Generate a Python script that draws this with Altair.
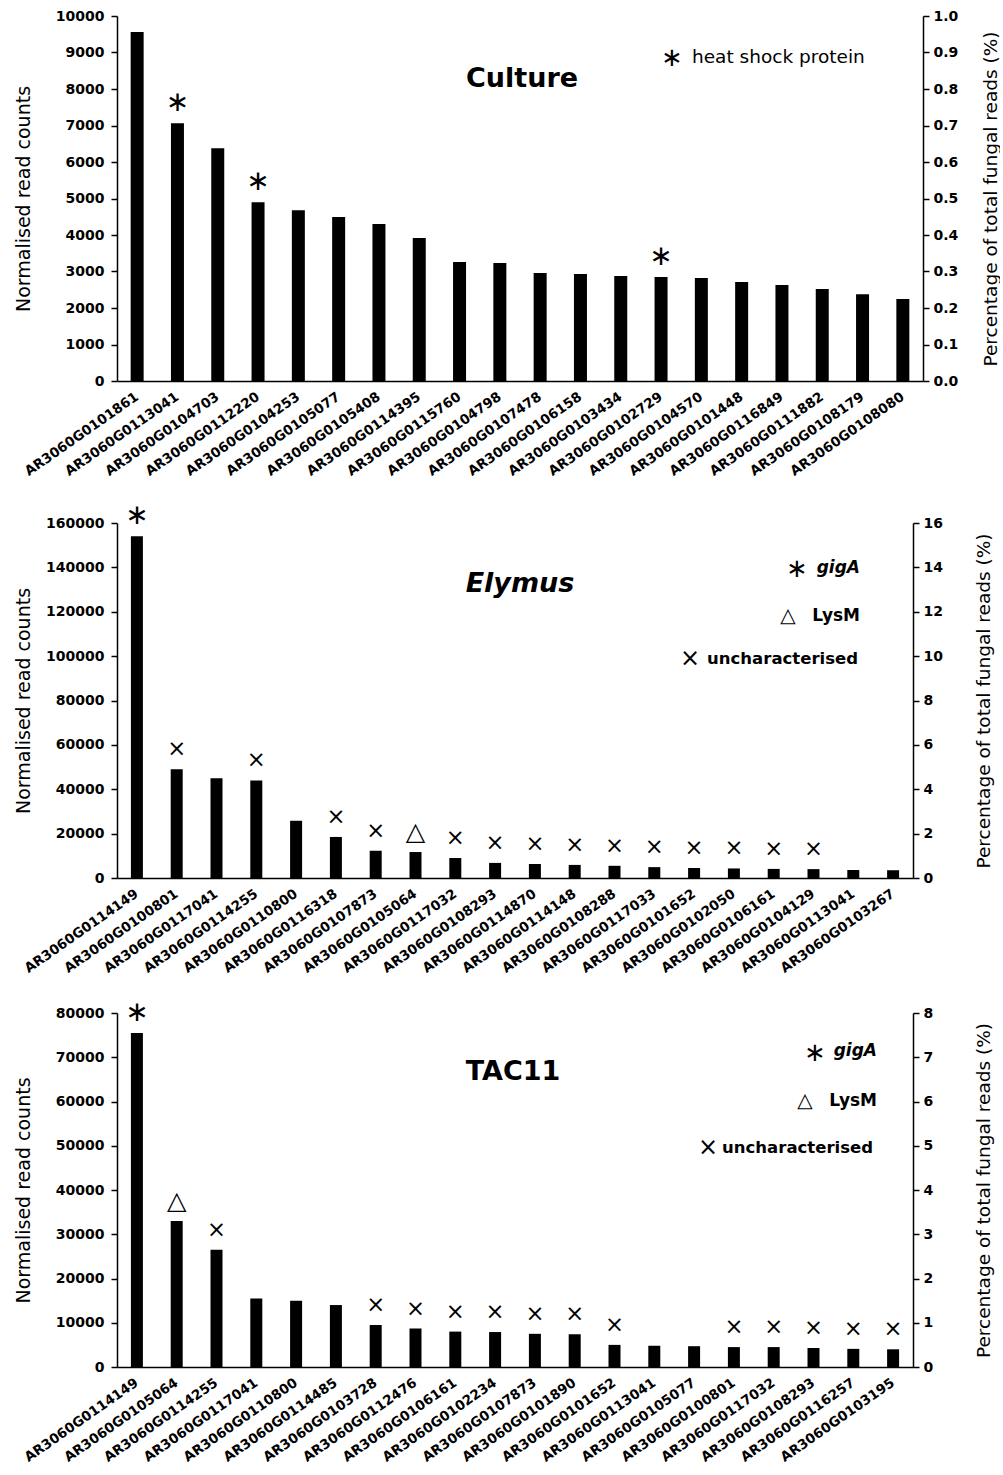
import altair as alt
import pandas as pd

FONT = "DejaVu Sans"
AST, TRI, CRS = "∗", "△", "×"

# ---------------- Culture ----------------
culture_genes = [
    "AR3060G0101861", "AR3060G0113041", "AR3060G0104703", "AR3060G0112220",
    "AR3060G0104253", "AR3060G0105077", "AR3060G0105408", "AR3060G0114395",
    "AR3060G0115760", "AR3060G0104798", "AR3060G0107478", "AR3060G0106158",
    "AR3060G0103434", "AR3060G0102729", "AR3060G0104570", "AR3060G0101448",
    "AR3060G0116849", "AR3060G0111882", "AR3060G0108179", "AR3060G0108080",
]
culture_counts = [9560, 7060, 6380, 4900, 4680, 4490, 4300, 3920, 3260, 3230,
                  2960, 2930, 2880, 2850, 2820, 2710, 2630, 2520, 2380, 2250]
culture_marks = ["", AST, "", AST, "", "", "", "", "", "",
                 "", "", "", AST, "", "", "", "", "", ""]

# ---------------- Elymus ----------------
elymus_genes = [
    "AR3060G0114149", "AR3060G0100801", "AR3060G0117041", "AR3060G0114255",
    "AR3060G0110800", "AR3060G0116318", "AR3060G0107873", "AR3060G0105064",
    "AR3060G0117032", "AR3060G0108293", "AR3060G0114870", "AR3060G0114148",
    "AR3060G0108288", "AR3060G0117033", "AR3060G0101652", "AR3060G0102050",
    "AR3060G0106161", "AR3060G0104129", "AR3060G0113041", "AR3060G0103267",
]
elymus_counts = [154000, 49000, 45000, 44000, 25800, 18500, 12300, 11700, 9000, 6800,
                 6300, 5900, 5500, 4900, 4500, 4300, 4100, 4000, 3600, 3500]
elymus_marks = [AST, CRS, "", CRS, "", CRS, CRS, TRI, CRS, CRS,
                CRS, CRS, CRS, CRS, CRS, CRS, CRS, CRS, "", ""]

# ---------------- TAC11 ----------------
tac_genes = [
    "AR3060G0114149", "AR3060G0105064", "AR3060G0114255", "AR3060G0117041",
    "AR3060G0110800", "AR3060G0114485", "AR3060G0103728", "AR3060G0112476",
    "AR3060G0106161", "AR3060G0102234", "AR3060G0107873", "AR3060G0101890",
    "AR3060G0101652", "AR3060G0113041", "AR3060G0105077", "AR3060G0100801",
    "AR3060G0117032", "AR3060G0108293", "AR3060G0116257", "AR3060G0103195",
]
tac_counts = [75500, 33000, 26500, 15500, 15000, 14000, 9500, 8700, 8000, 7900,
              7500, 7400, 5000, 4800, 4700, 4500, 4500, 4300, 4100, 4000]
tac_marks = [AST, TRI, CRS, "", "", "", CRS, CRS, CRS, CRS,
             CRS, CRS, CRS, "", "", CRS, CRS, CRS, CRS, CRS]

left_ticks_culture = list(range(0, 10001, 1000))
left_ticks_elymus = list(range(0, 160001, 20000))
left_ticks_tac = list(range(0, 80001, 10000))
right_ticks_culture = [round(i * 0.1, 1) for i in range(11)]
right_ticks_elymus = list(range(0, 17, 2))
right_ticks_tac = list(range(0, 9))

LEFT_TITLE = "Normalised read counts"
RIGHT_TITLE = "Percentage of total fungal reads (%)"


def annot(text, px, py, align="left", size=18.5, weight="normal", style="normal", font=FONT):
    return alt.Chart(pd.DataFrame({"t": [text]})).mark_text(
        align=align, baseline="middle", font=font, fontSize=size,
        fontWeight=weight, fontStyle=style, color="black"
    ).encode(text="t:N", x=alt.value(px), y=alt.value(py))


def panel(genes, counts, marks, width, height, lticks, rticks, rfmt, right_title_x,
          bar_size, annotations):
    df = pd.DataFrame({"gene": genes, "count": counts, "mark": marks})
    ymax = lticks[-1]
    yscale = alt.Scale(domain=[0, ymax], nice=False, zero=True)
    xenc = alt.X(
        "gene:N", sort=genes,
        scale=alt.Scale(paddingInner=0.1, paddingOuter=0.05),
        axis=alt.Axis(title=None, labelAngle=-35, labelAlign="right", labelBaseline="middle",
                      labelFont=FONT, labelFontSize=13.5, labelFontWeight="bold",
                      labelPadding=14, ticks=False, domainWidth=1.5,
                      labelOverlap=False, labelLimit=300, grid=False),
    )
    bars = alt.Chart(df).mark_bar(color="black", size=bar_size).encode(
        x=xenc,
        y=alt.Y("count:Q", scale=yscale,
                axis=alt.Axis(title=LEFT_TITLE, values=lticks, format="d", labelFont=FONT,
                              labelFontSize=14, labelFontWeight="bold",
                              labelPadding=7, tickSize=6, tickWidth=1.5,
                              domainWidth=1.5, titleFont=FONT, titleFontSize=19,
                              titleFontWeight="normal", titleAngle=270,
                              titleX=-94, titleY=height / 2, titleAlign="center",
                              titleBaseline="middle", grid=False)),
    )
    markers = alt.Chart(df).mark_text(dy=-20, baseline="middle", font=FONT,
                                      color="black").encode(
        x=xenc,
        y=alt.Y("count:Q", scale=yscale, axis=None),
        text="mark:N",
        size=alt.Size("mark:N", scale=alt.Scale(domain=[AST, TRI, CRS, ""],
                                                range=[28, 20, 24, 10]),
                      legend=None),
    )
    right = alt.Chart(df).mark_point(opacity=0).encode(
        y=alt.YDatum(0, type="quantitative",
                     scale=alt.Scale(domain=[0, rticks[-1]], nice=False),
                     axis=alt.Axis(title=RIGHT_TITLE, orient="right", values=rticks,
                                   format=rfmt,
                                   labelFont=FONT, labelFontSize=14,
                                   labelFontWeight="bold", labelPadding=4,
                                   tickSize=6, tickWidth=1.5, domainWidth=1.5,
                                   titleFont=FONT, titleFontSize=18.5,
                                   titleFontWeight="normal", titleAngle=270,
                                   titleX=right_title_x, titleY=height / 2,
                                   titleAlign="center", titleBaseline="middle",
                                   grid=False)),
    )
    return alt.layer(bars, markers, right, *annotations).resolve_scale(
        y="independent"
    ).properties(width=width, height=height)


p1 = panel(
    culture_genes, culture_counts, culture_marks, 806, 365,
    left_ticks_culture, right_ticks_culture, ".1f", 67, 13,
    [
        annot("Culture", 405, 63, align="center", size=27, weight="bold"),
        annot(AST, 555, 42, align="center", size=26),
        annot("heat shock protein", 575, 41, size=18.5),
    ],
)

p2 = panel(
    elymus_genes, elymus_counts, elymus_marks, 796, 355,
    left_ticks_elymus, right_ticks_elymus, "d", 70, 12,
    [
        annot("Elymus", 403, 61, align="center", size=27, weight="bold", style="italic"),
        annot(AST, 680, 46, align="center", size=26),
        annot("gigA", 743, 45, align="right", size=17, weight="bold", style="italic"),
        annot(TRI, 671, 93, align="center", size=20),
        annot("LysM", 743, 93, align="right", size=17, weight="bold"),
        annot(CRS, 573, 136, align="center", size=24),
        annot("uncharacterised", 741, 136, align="right", size=16.5, weight="bold"),
    ],
)

p3 = panel(
    tac_genes, tac_counts, tac_marks, 796, 354,
    left_ticks_tac, right_ticks_tac, "d", 70, 12,
    [
        annot("TAC11", 396, 59, align="center", size=27, weight="bold"),
        annot(AST, 698, 40, align="center", size=26),
        annot("gigA", 760, 38, align="right", size=17, weight="bold", style="italic"),
        annot(TRI, 688, 88, align="center", size=20),
        annot("LysM", 760, 88, align="right", size=17, weight="bold"),
        annot(CRS, 591, 135, align="center", size=24),
        annot("uncharacterised", 756, 135, align="right", size=16.5, weight="bold"),
    ],
)

inner = alt.vconcat(p2, p3, spacing=135, bounds="flush")
chart = alt.vconcat(p1, inner, spacing=142, bounds="flush").properties(
    padding={"left": 14, "top": 2, "right": 0, "bottom": 0},
    background="white",
).configure_view(stroke=None).configure_axis(
    grid=False, domainColor="black", tickColor="black", labelColor="black",
    titleColor="black"
)

chart.save("out.html", embed_options={"renderer": "svg", "actions": False})
